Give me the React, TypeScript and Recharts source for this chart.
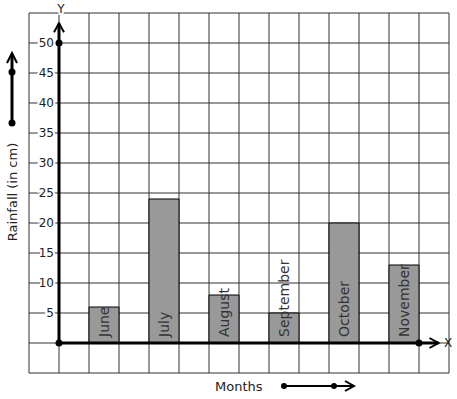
import React from 'react';
import { ComposedChart, Bar, XAxis, YAxis, CartesianGrid, ReferenceLine, ReferenceDot, LabelList } from 'recharts';

const months = ['June', 'July', 'August', 'September', 'October', 'November'];
const rainfall = [6, 24, 8, 5, 20, 13];
const monthSlots = [2, 4, 6, 8, 10, 12];
const slotCount = 14;
const yTicks = [-5, 0, 5, 10, 15, 20, 25, 30, 35, 40, 45, 50, 55];
const yLabelTicks = [5, 10, 15, 20, 25, 30, 35, 40, 45, 50];
const gridXTicks = [-1, 0, 1, 2, 3, 4, 5, 6, 7, 8, 9, 10, 11, 12, 13];

const data = Array.from({ length: slotCount }, (_, i) => {
  const k = monthSlots.indexOf(i);
  return { slot: i, value: k >= 0 ? rainfall[k] : null, month: k >= 0 ? months[k] : '' };
});

const FONT = 'DejaVu Sans';
const INK = '#222';

const YTick = (props: any) => {
  const { x, y, payload } = props;
  if (!yLabelTicks.includes(payload.value)) return <g />;
  return (
    <text x={x + 25} y={y} textAnchor="end" dominantBaseline="central" fontFamily={FONT} fontSize={12}
      fill={INK} stroke="#fff" strokeWidth={4} paintOrder="stroke">{payload.value}</text>
  );
};

const BarLabel = (props: any) => {
  const { x, y, width, height, value } = props;
  if (!value) return null;
  const cx = x + width / 2;
  const by = y + height - 6;
  return (
    <text x={cx} y={by} transform={`rotate(-90 ${cx} ${by})`} textAnchor="start" dy="0.36em"
      fontFamily={FONT} fontSize={14} fill="#333">{value}</text>
  );
};

const UpArrow = (props: any) => {
  const { cx, cy } = props;
  return <path d={`M${cx - 5} ${cy + 9} L${cx} ${cy} L${cx + 5} ${cy + 9}`} stroke="#000" strokeWidth={2} fill="none" />;
};
const RightArrow = (props: any) => {
  const { cx, cy } = props;
  return <path d={`M${cx - 9} ${cy - 5} L${cx} ${cy} L${cx - 9} ${cy + 5}`} stroke="#000" strokeWidth={2} fill="none" />;
};

export default function App() {
  return (
    <div style={{ position: 'absolute', left: 0, top: 0, width: 457, height: 399, background: '#fff' }}>
      <ComposedChart width={457} height={399} data={data} margin={{ top: 13, right: 8, bottom: 26, left: 0 }}
        barCategoryGap={0} barGap={0}>
        <CartesianGrid xAxisId="grid" stroke="#333" strokeWidth={1} strokeOpacity={1} />
        <XAxis xAxisId="cat" dataKey="slot" type="category" hide />
        <XAxis xAxisId="grid" dataKey="slot" type="number" domain={[-1, 13]} ticks={gridXTicks} allowDataOverflow hide />
        <YAxis type="number" domain={[-5, 55]} ticks={yTicks} width={29} axisLine={false} tickLine={false}
          tickSize={0} tickMargin={0} tick={<YTick />} interval={0} />
        <Bar xAxisId="cat" dataKey="value" fill="#999" stroke="#000" strokeWidth={1} isAnimationActive={false}>
          <LabelList dataKey="month" content={<BarLabel />} />
        </Bar>
        <ReferenceLine xAxisId="grid" segment={[{ x: 0, y: 0 }, { x: 0, y: 53.3 }]} stroke="#000" strokeWidth={3} />
        <ReferenceLine xAxisId="grid" segment={[{ x: 0, y: 0 }, { x: 12.65, y: 0 }]} stroke="#000" strokeWidth={3} />
        <ReferenceDot xAxisId="grid" x={0} y={53.3} shape={<UpArrow />} />
        <ReferenceDot xAxisId="grid" x={12.65} y={0} shape={<RightArrow />} />
        <ReferenceDot xAxisId="grid" x={0} y={0} r={3.5} fill="#000" stroke="none" />
        <ReferenceDot xAxisId="grid" x={0} y={50} r={3.5} fill="#000" stroke="none" />
        <ReferenceDot xAxisId="grid" x={12} y={0} r={3.5} fill="#000" stroke="none" />
      </ComposedChart>
      <svg width={457} height={399} style={{ position: 'absolute', left: 0, top: 0, pointerEvents: 'none' }}>
        <text x={61} y={9} textAnchor="middle" dominantBaseline="central" fontFamily={FONT} fontSize={12}
          fill={INK} stroke="#fff" strokeWidth={4} paintOrder="stroke">Y</text>
        <text x={448} y={343} textAnchor="middle" dominantBaseline="central" fontFamily={FONT} fontSize={12} fill={INK}>X</text>
        <text x={12} y={192} transform="rotate(-90 12 192)" textAnchor="middle" dominantBaseline="central"
          fontFamily={FONT} fontSize={13} fill={INK}>Rainfall (in cm)</text>
        <text x={215} y={386} textAnchor="start" dominantBaseline="central" fontFamily={FONT} fontSize={13} fill={INK}>Months</text>
        <line x1={12} y1={123} x2={12} y2={54} stroke="#000" strokeWidth={3} />
        <path d="M7 63 L12 53 L17 63" stroke="#000" strokeWidth={2} fill="none" />
        <circle cx={12} cy={123} r={3.5} fill="#000" />
        <circle cx={12} cy={72} r={3.5} fill="#000" />
        <line x1={284} y1={386} x2={353} y2={386} stroke="#000" strokeWidth={2} />
        <path d="M345 381 L354 386 L345 391" stroke="#000" strokeWidth={2} fill="none" />
        <circle cx={284} cy={386} r={3} fill="#000" />
        <circle cx={334} cy={386} r={3} fill="#000" />
      </svg>
    </div>
  );
}
